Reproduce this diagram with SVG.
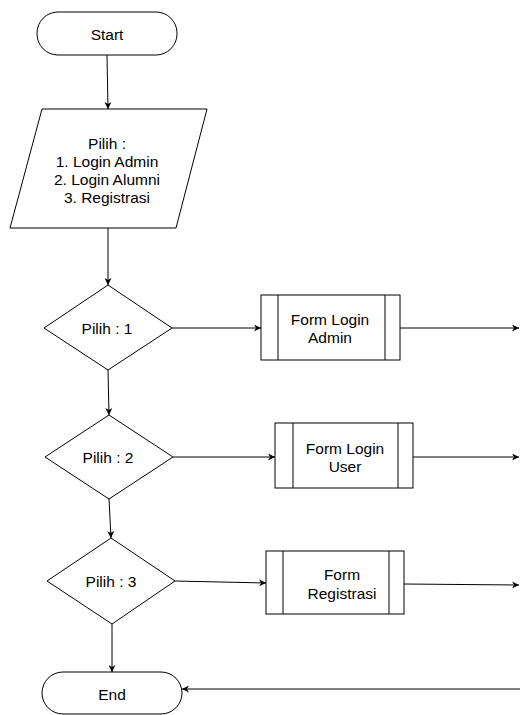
<svg xmlns="http://www.w3.org/2000/svg" width="520" height="715" viewBox="0 0 520 715">
<style>
.s{fill:#fff;stroke:#000;stroke-width:1}
.l{fill:none;stroke:#000;stroke-width:1}
.c{stroke:#000;stroke-width:1;fill:none;marker-end:url(#a)}
text{font-family:"Liberation Sans",Arial,sans-serif;font-size:15.5px;fill:#000;text-anchor:middle;dominant-baseline:central}
</style>
<defs>
<marker id="a" viewBox="0 0 10 10" refX="10" refY="5" markerWidth="7" markerHeight="7" markerUnits="userSpaceOnUse" orient="auto">
<path d="M0,0 L10,5 L0,10 L3,5 Z" fill="#000"/>
</marker>
</defs>
<g id="connectors">
<line class="c" x1="107" y1="55" x2="108" y2="109"/>
<line class="c" x1="108" y1="228" x2="108" y2="285"/>
<line class="c" x1="108" y1="370" x2="109" y2="415"/>
<line class="c" x1="109" y1="499" x2="111" y2="538"/>
<line class="c" x1="112" y1="624" x2="112" y2="672"/>
<line class="c" x1="172" y1="328" x2="261" y2="328"/>
<line class="c" x1="173" y1="457" x2="275" y2="457"/>
<line class="c" x1="175" y1="581" x2="266" y2="583"/>
<line class="c" x1="400" y1="328" x2="519" y2="328"/>
<line class="c" x1="413" y1="457" x2="519" y2="457"/>
<line class="c" x1="404" y1="584" x2="519" y2="585"/>
<line class="c" x1="520" y1="689" x2="182" y2="689"/>
</g>
<g id="start">
<rect class="s" x="37" y="12" width="140" height="43" rx="21" ry="21"/>
<text x="107" y="34">Start</text>
</g>
<g id="input">
<polygon class="s" points="42,109 207,109 176,228 10,228"/>
<text x="107" y="143">Pilih :</text>
<text x="107" y="161">1. Login Admin</text>
<text x="107" y="179">2. Login Alumni</text>
<text x="107" y="197">3. Registrasi</text>
</g>
<g id="d1">
<polygon class="s" points="108,285 172,328 108,370 44,328"/>
<text x="107" y="328">Pilih : 1</text>
</g>
<g id="p1">
<rect class="s" x="261" y="295" width="139" height="65"/>
<line class="l" x1="278" y1="295" x2="278" y2="360"/>
<line class="l" x1="385" y1="295" x2="385" y2="360"/>
<text x="330" y="319">Form Login</text>
<text x="330" y="337">Admin</text>
</g>
<g id="d2">
<polygon class="s" points="109,415 173,457 109,499 45,457"/>
<text x="108" y="457">Pilih : 2</text>
</g>
<g id="p2">
<rect class="s" x="275" y="423" width="138" height="65"/>
<line class="l" x1="293" y1="423" x2="293" y2="488"/>
<line class="l" x1="398" y1="423" x2="398" y2="488"/>
<text x="345" y="448">Form Login</text>
<text x="345" y="466">User</text>
</g>
<g id="d3">
<polygon class="s" points="111,538 175,581 112,624 47,581"/>
<text x="111" y="581">Pilih : 3</text>
</g>
<g id="p3">
<rect class="s" x="266" y="551" width="138" height="63"/>
<line class="l" x1="283" y1="551" x2="283" y2="614"/>
<line class="l" x1="389" y1="551" x2="389" y2="614"/>
<text x="342" y="574">Form</text>
<text x="342" y="593">Registrasi</text>
</g>
<g id="end">
<rect class="s" x="42" y="672" width="140" height="42" rx="21" ry="21"/>
<text x="112" y="694">End</text>
</g>
</svg>
